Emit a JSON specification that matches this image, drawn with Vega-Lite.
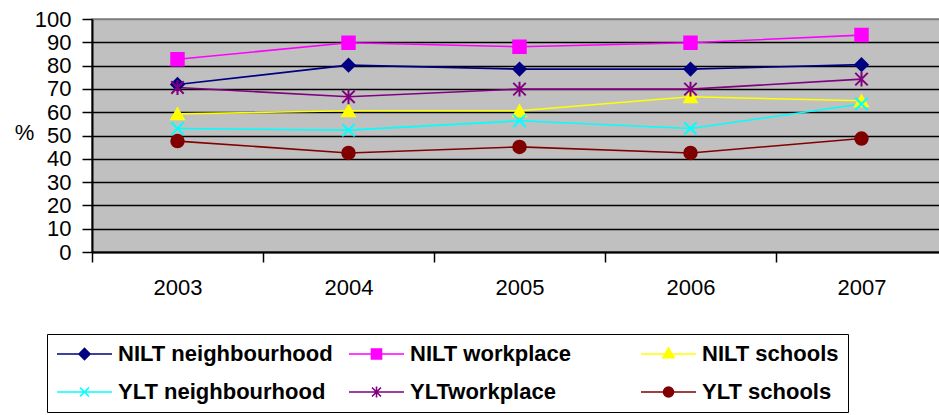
{
  "$schema": "https://vega.github.io/schema/vega-lite/v6.json",
  "width": 855,
  "height": 233,
  "autosize": {"type": "none"},
  "padding": {"left": 92, "top": 19, "right": 0, "bottom": 163},
  "background": "white",
  "config": {
    "font": "Liberation Sans",
    "view": {"fill": "#C0C0C0", "stroke": "#808080", "strokeWidth": 1.5},
    "legend": {
      "title": null,
      "orient": "none",
      "legendX": -45,
      "legendY": 315,
      "direction": "horizontal",
      "columns": 3,
      "gridAlign": "all",
      "symbolSize": 400,
      "symbolStrokeWidth": 1.6,
      "labelFontSize": 22,
      "labelFontWeight": "bold",
      "labelColor": "black",
      "labelOffset": 40,
      "labelLimit": 400,
      "columnPadding": 12,
      "rowPadding": 16,
      "padding": 9,
      "strokeColor": "black",
      "fillColor": "white"
    }
  },
  "data": {
    "values": [
      {"year": "2003", "series": "NILT neighbourhood", "value": 71.9},
      {"year": "2004", "series": "NILT neighbourhood", "value": 80.2},
      {"year": "2005", "series": "NILT neighbourhood", "value": 78.5},
      {"year": "2006", "series": "NILT neighbourhood", "value": 78.5},
      {"year": "2007", "series": "NILT neighbourhood", "value": 80.4},
      {"year": "2003", "series": "NILT workplace", "value": 82.7},
      {"year": "2004", "series": "NILT workplace", "value": 89.8},
      {"year": "2005", "series": "NILT workplace", "value": 88.1},
      {"year": "2006", "series": "NILT workplace", "value": 89.8},
      {"year": "2007", "series": "NILT workplace", "value": 93.1},
      {"year": "2003", "series": "NILT schools", "value": 59.3},
      {"year": "2004", "series": "NILT schools", "value": 60.6},
      {"year": "2005", "series": "NILT schools", "value": 60.6},
      {"year": "2006", "series": "NILT schools", "value": 66.6},
      {"year": "2007", "series": "NILT schools", "value": 64.9},
      {"year": "2003", "series": "YLT neighbourhood", "value": 53.0},
      {"year": "2004", "series": "YLT neighbourhood", "value": 52.3},
      {"year": "2005", "series": "YLT neighbourhood", "value": 56.3},
      {"year": "2006", "series": "YLT neighbourhood", "value": 53.0},
      {"year": "2007", "series": "YLT neighbourhood", "value": 63.5},
      {"year": "2003", "series": "YLTworkplace", "value": 70.6},
      {"year": "2004", "series": "YLTworkplace", "value": 66.6},
      {"year": "2005", "series": "YLTworkplace", "value": 69.9},
      {"year": "2006", "series": "YLTworkplace", "value": 69.9},
      {"year": "2007", "series": "YLTworkplace", "value": 74.2},
      {"year": "2003", "series": "YLT schools", "value": 47.6},
      {"year": "2004", "series": "YLT schools", "value": 42.5},
      {"year": "2005", "series": "YLT schools", "value": 45.1},
      {"year": "2006", "series": "YLT schools", "value": 42.5},
      {"year": "2007", "series": "YLT schools", "value": 48.7}
    ]
  },
  "encoding": {
    "x": {
      "field": "year",
      "type": "ordinal",
      "scale": {"type": "band", "paddingInner": 0, "paddingOuter": 0},
      "axis": {
        "title": null,
        "labelAngle": 0,
        "labelFontSize": 22,
        "labelColor": "black",
        "labelPadding": 15,
        "tickBand": "extent",
        "tickSize": 10,
        "tickColor": "black",
        "tickWidth": 1.5,
        "domainColor": "black",
        "domainWidth": 2,
        "grid": false
      }
    },
    "y": {
      "field": "value",
      "type": "quantitative",
      "scale": {"domain": [0, 100], "nice": false, "zero": true},
      "axis": {
        "values": [0, 10, 20, 30, 40, 50, 60, 70, 80, 90, 100],
        "title": "%",
        "titleAngle": 0,
        "titleFontSize": 22,
        "titleFontWeight": "normal",
        "titleColor": "black",
        "titleAlign": "center",
        "titleBaseline": "middle",
        "titleX": -68,
        "titleY": 113,
        "labelFontSize": 22,
        "labelColor": "black",
        "labelPadding": 11,
        "tickSize": 10,
        "tickColor": "black",
        "tickWidth": 1.5,
        "domainColor": "black",
        "domainWidth": 2,
        "grid": true,
        "gridColor": {"condition": {"test": "datum.value == 100", "value": "#808080"}, "value": "black"},
        "gridWidth": 1.6,
        "gridOpacity": 1
      }
    }
  },
  "layer": [
    {
      "mark": {"type": "line", "strokeWidth": 1.6},
      "encoding": {
        "color": {
          "field": "series",
          "type": "nominal",
          "scale": {
            "domain": ["NILT neighbourhood", "NILT workplace", "NILT schools", "YLT neighbourhood", "YLTworkplace", "YLT schools"],
            "range": ["#000080", "#FF00FF", "#FFFF00", "#00FFFF", "#800080", "#800000"]
          },
          "legend": null
        }
      }
    },
    {
      "mark": {"type": "point", "filled": true, "size": 155, "strokeWidth": 2, "opacity": 1},
      "encoding": {
        "shape": {
          "field": "series",
          "type": "nominal",
          "scale": {
            "domain": ["NILT neighbourhood", "NILT workplace", "NILT schools", "YLT neighbourhood", "YLTworkplace", "YLT schools"],
            "range": ["diamond", "square", "triangle-up", "M-1,-1L1,1M-1,1L1,-1", "M-1,-1L1,1M-1,1L1,-1M0,-1.2L0,1.2", "circle"]
          },
          "legend": null
        },
        "fill": {
          "field": "series",
          "type": "nominal",
          "scale": {
            "domain": ["NILT neighbourhood", "NILT workplace", "NILT schools", "YLT neighbourhood", "YLTworkplace", "YLT schools"],
            "range": ["#000080", "#FF00FF", "#FFFF00", "#00FFFF", "#800080", "#800000"]
          },
          "legend": null
        },
        "stroke": {
          "field": "series",
          "type": "nominal",
          "scale": {
            "domain": ["NILT neighbourhood", "NILT workplace", "NILT schools", "YLT neighbourhood", "YLTworkplace", "YLT schools"],
            "range": ["#000080", "#FF00FF", "#FFFF00", "#00FFFF", "#800080", "#800000"]
          },
          "legend": null
        }
      }
    },
    {
      "transform": [{"filter": "datum.year == 'none'"}],
      "mark": {"type": "point", "filled": true, "opacity": 1},
      "encoding": {
        "shape": {
          "field": "series",
          "type": "nominal",
          "scale": {
            "domain": ["NILT neighbourhood", "NILT workplace", "NILT schools", "YLT neighbourhood", "YLTworkplace", "YLT schools"],
            "range": [
              "M-1,0L4.5,0M1.2,0L1.75,-0.55L2.3,0L1.75,0.55Z",
              "M-1,0L4.5,0M1.25,-0.5L2.25,-0.5L2.25,0.5L1.25,0.5Z",
              "M-1,0L4.5,0M1.75,-0.62L2.3,0.38L1.2,0.38Z",
              "M-1,0L4.5,0M1.3,-0.45L2.2,0.45M1.3,0.45L2.2,-0.45",
              "M-1,0L4.5,0M1.3,-0.45L2.2,0.45M1.3,0.45L2.2,-0.45M1.75,-0.55L1.75,0.55",
              "M-1,0L4.5,0M1.25,0A0.5,0.5,0,1,0,2.25,0A0.5,0.5,0,1,0,1.25,0Z"
            ]
          }
        },
        "fill": {
          "field": "series",
          "type": "nominal",
          "scale": {
            "domain": ["NILT neighbourhood", "NILT workplace", "NILT schools", "YLT neighbourhood", "YLTworkplace", "YLT schools"],
            "range": ["#000080", "#FF00FF", "#FFFF00", "#00FFFF", "#800080", "#800000"]
          }
        },
        "stroke": {
          "field": "series",
          "type": "nominal",
          "scale": {
            "domain": ["NILT neighbourhood", "NILT workplace", "NILT schools", "YLT neighbourhood", "YLTworkplace", "YLT schools"],
            "range": ["#000080", "#FF00FF", "#FFFF00", "#00FFFF", "#800080", "#800000"]
          }
        }
      }
    }
  ],
  "resolve": {
    "scale": {"color": "independent", "shape": "independent", "fill": "independent", "stroke": "independent"}
  }
}
